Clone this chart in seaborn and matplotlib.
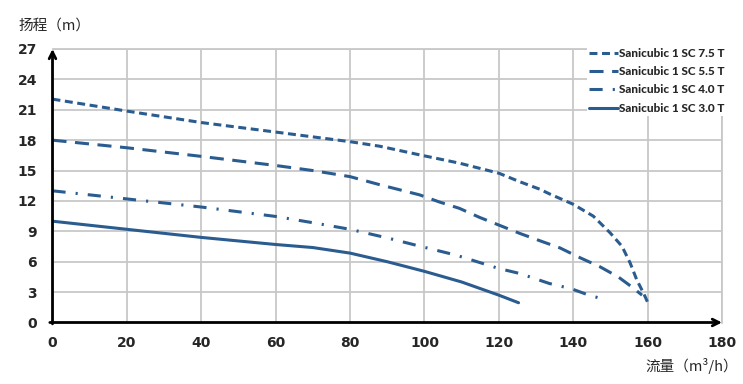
import numpy as np
import pandas as pd
import matplotlib
matplotlib.use("Agg")
import matplotlib.pyplot as plt
import seaborn as sns

# 读图得到的曲线数据
series_names = ["Sanicubic 1 SC 7.5 T", "Sanicubic 1 SC 5.5 T",
                "Sanicubic 1 SC 4.0 T", "Sanicubic 1 SC 3.0 T"]

flow_75 = [0, 20, 40, 60, 80, 88, 98.7, 109.4, 120, 125.6, 131, 133.6, 140,
           145.4, 149.9, 153.1, 155.3, 157.1, 158.9, 160]
head_75 = [22.05, 20.87, 19.74, 18.8, 17.85, 17.4, 16.55, 15.73, 14.74, 13.9,
           13.16, 12.7, 11.67, 10.5, 8.86, 7.53, 5.88, 4.2, 2.9, 2.0]

flow_55 = [0, 20, 40, 60, 70, 80, 88, 98.7, 104, 109.4, 114.8, 120, 125.6,
           131.8, 136.4, 141.8, 147.2, 152.1, 155.8, 158.5]
head_55 = [18.0, 17.25, 16.4, 15.5, 15.0, 14.4, 13.6, 12.6, 11.9, 11.27, 10.38,
           9.62, 8.8, 7.97, 7.37, 6.4, 5.5, 4.5, 3.5, 2.7]

flow_40 = [0, 20, 40, 60, 70, 80, 90, 98.7, 108.5, 120, 125.6, 133.6, 139.5,
           144, 148.1]
head_40 = [13.0, 12.2, 11.4, 10.47, 9.85, 9.2, 8.35, 7.54, 6.65, 5.33, 4.84,
           3.85, 3.33, 2.73, 2.3]

flow_30 = [0, 20, 40, 60, 70, 80, 90, 100, 110, 120, 125.3]
head_30 = [10.0, 9.2, 8.4, 7.7, 7.4, 6.85, 6.0, 5.05, 4.0, 2.7, 1.95]

x_ticks = list(range(0, 181, 20))
y_ticks = list(range(0, 28, 3))

frames = []
for name, fx, hy in zip(series_names,
                        [flow_75, flow_55, flow_40, flow_30],
                        [head_75, head_55, head_40, head_30]):
    frames.append(pd.DataFrame({"flow": fx, "head": hy, "pump": name}))
df = pd.concat(frames, ignore_index=True)

sns.set_style("white")
plt.rcParams["font.family"] = ["DejaVu Sans"]

blue = "#2b5c8f"
grid_c = "#c8c8c8"

fig = plt.figure(figsize=(7.43, 3.84), dpi=100)
ax = fig.add_axes([52.5 / 743, 1 - 322.5 / 384, (722 - 52.5) / 743, (322.5 - 49) / 384])

dashes = {
    series_names[0]: (2.6, 1.5),
    series_names[1]: (4.6, 2.8),
    series_names[2]: (4.3, 3.3, 0.7, 3.3),
    series_names[3]: "",
}
sns.lineplot(data=df, x="flow", y="head", hue="pump", style="pump",
             hue_order=series_names, style_order=series_names,
             palette=[blue] * 4, dashes=dashes, linewidth=2.2, ax=ax,
             estimator=None)

ax.set_xlim(0, 180)
ax.set_ylim(0, 27)
ax.set_xticks(x_ticks)
ax.set_yticks(y_ticks)
ax.grid(True, color=grid_c, linewidth=1.3)
ax.set_axisbelow(True)
ax.tick_params(length=0, labelsize=10)
ax.tick_params(axis="x", pad=10)
ax.tick_params(axis="y", pad=11)
for lab in ax.get_xticklabels() + ax.get_yticklabels():
    lab.set_fontweight("bold")
ax.set_xlabel("")
ax.set_ylabel("")

for s in ["top", "right"]:
    ax.spines[s].set_color(grid_c)
    ax.spines[s].set_linewidth(1.3)
for s in ["left", "bottom"]:
    ax.spines[s].set_visible(False)

# 坐标轴箭头
ax.annotate("", xy=(0, 1.0), xytext=(0, -0.005), xycoords="axes fraction",
            arrowprops=dict(arrowstyle="->", color="black", lw=2,
                            mutation_scale=12, shrinkA=0, shrinkB=0))
ax.annotate("", xy=(1.0, 0), xytext=(-0.004, 0), xycoords="axes fraction",
            arrowprops=dict(arrowstyle="->", color="black", lw=2,
                            mutation_scale=12, shrinkA=0, shrinkB=0))

handles, labels = ax.get_legend_handles_labels()
leg = ax.legend(handles, labels, loc="upper left",
                bbox_to_anchor=(587 / 743, 1 - 46 / 384),
                bbox_transform=fig.transFigure,
                prop={"family": ["Lato", "DejaVu Sans"], "weight": 900, "size": 8.5},
                handlelength=2.5, handletextpad=0.1, labelspacing=0.62,
                borderpad=0.15, borderaxespad=0, frameon=True)
leg.get_frame().set_facecolor("white")
leg.get_frame().set_edgecolor("none")
leg.get_frame().set_alpha(1)

cjk = ["Noto Sans CJK SC", "DejaVu Sans"]
fig.text(18 / 743, 1 - 30 / 384, "扬程（m）", family=cjk, fontsize=10.5,
         ha="left", va="baseline")
fig.text(738 / 743, 1 - 371 / 384, "流量（m³/h）", family=cjk, fontsize=10.5,
         ha="right", va="baseline")

fig.savefig("out.png", dpi=100)
